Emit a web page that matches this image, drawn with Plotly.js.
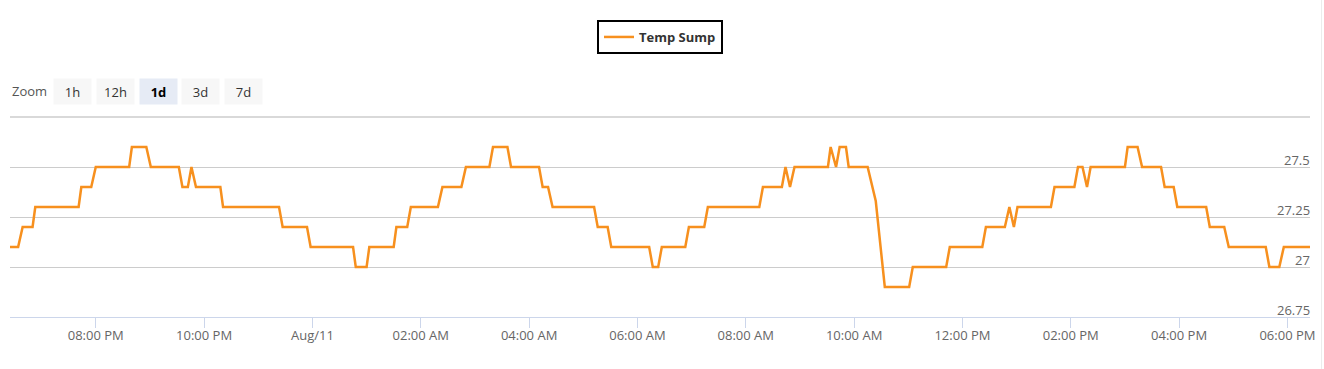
<!DOCTYPE html>
<html>
<head>
<meta charset="utf-8">
<script src="https://cdn.plot.ly/plotly-3.0.1.min.js"></script>
<style>
html,body{margin:0;padding:0;background:#fff;}
#chart{width:1324px;height:369px;}
</style>
</head>
<body>
<div id="chart"></div>
<script>
// Temp Sump readings (time, °C)
const times = [
  "2023-08-10 18:25","2023-08-10 18:34","2023-08-10 18:39","2023-08-10 18:50","2023-08-10 18:53",
  "2023-08-10 19:41","2023-08-10 19:44","2023-08-10 19:55","2023-08-10 20:00","2023-08-10 20:37",
  "2023-08-10 20:40","2023-08-10 20:56","2023-08-10 21:01","2023-08-10 21:32","2023-08-10 21:36",
  "2023-08-10 21:42","2023-08-10 21:46","2023-08-10 21:51","2023-08-10 22:18","2023-08-10 22:21",
  "2023-08-10 23:23","2023-08-10 23:27","2023-08-10 23:54","2023-08-10 23:58",
  "2023-08-11 00:45","2023-08-11 00:48","2023-08-11 01:00","2023-08-11 01:03","2023-08-11 01:30",
  "2023-08-11 01:33","2023-08-11 01:45","2023-08-11 01:49","2023-08-11 02:19","2023-08-11 02:24",
  "2023-08-11 02:45","2023-08-11 02:50","2023-08-11 03:16","2023-08-11 03:20","2023-08-11 03:36",
  "2023-08-11 03:40","2023-08-11 04:11","2023-08-11 04:15","2023-08-11 04:21","2023-08-11 04:26",
  "2023-08-11 05:12","2023-08-11 05:16","2023-08-11 05:27","2023-08-11 05:31","2023-08-11 06:13",
  "2023-08-11 06:17","2023-08-11 06:23","2023-08-11 06:27","2023-08-11 06:53","2023-08-11 06:57",
  "2023-08-11 07:14","2023-08-11 07:18","2023-08-11 08:15","2023-08-11 08:19","2023-08-11 08:40",
  "2023-08-11 08:44","2023-08-11 08:49","2023-08-11 08:54","2023-08-11 09:31","2023-08-11 09:34",
  "2023-08-11 09:40","2023-08-11 09:44","2023-08-11 09:51","2023-08-11 09:54","2023-08-11 10:15",
  "2023-08-11 10:21","2023-08-11 10:24","2023-08-11 10:34","2023-08-11 11:01","2023-08-11 11:05",
  "2023-08-11 11:42","2023-08-11 11:46","2023-08-11 12:22","2023-08-11 12:26","2023-08-11 12:47",
  "2023-08-11 12:52","2023-08-11 12:57","2023-08-11 13:01","2023-08-11 13:38","2023-08-11 13:42",
  "2023-08-11 14:04","2023-08-11 14:08","2023-08-11 14:13","2023-08-11 14:18","2023-08-11 14:22",
  "2023-08-11 15:00","2023-08-11 15:03","2023-08-11 15:14","2023-08-11 15:19","2023-08-11 15:40",
  "2023-08-11 15:44","2023-08-11 15:54","2023-08-11 15:58","2023-08-11 16:30","2023-08-11 16:34",
  "2023-08-11 16:50","2023-08-11 16:55","2023-08-11 17:36","2023-08-11 17:40","2023-08-11 17:51",
  "2023-08-11 17:56","2023-08-11 18:25"
];
const temps = [
  27.1,27.1,27.2,27.2,27.3,
  27.3,27.4,27.4,27.5,27.5,
  27.6,27.6,27.5,27.5,27.4,
  27.4,27.5,27.4,27.4,27.3,
  27.3,27.2,27.2,27.1,
  27.1,27.0,27.0,27.1,27.1,
  27.2,27.2,27.3,27.3,27.4,
  27.4,27.5,27.5,27.6,27.6,
  27.5,27.5,27.4,27.4,27.3,
  27.3,27.2,27.2,27.1,27.1,
  27.0,27.0,27.1,27.1,27.2,
  27.2,27.3,27.3,27.4,27.4,
  27.5,27.4,27.5,27.5,27.6,
  27.5,27.6,27.6,27.5,27.5,
  27.38,27.33,26.9,26.9,27.0,
  27.0,27.1,27.1,27.2,27.2,
  27.3,27.2,27.3,27.3,27.4,
  27.4,27.5,27.5,27.4,27.5,
  27.5,27.6,27.6,27.5,27.5,
  27.4,27.4,27.3,27.3,27.2,
  27.2,27.1,27.1,27.0,27.0,
  27.1,27.1
];
const seriesName = "Temp Sump";
const xRange = ["2023-08-10 18:25","2023-08-11 18:25"];
const tickTimes = [
  "2023-08-10 20:00","2023-08-10 22:00","2023-08-11 00:00","2023-08-11 02:00",
  "2023-08-11 04:00","2023-08-11 06:00","2023-08-11 08:00","2023-08-11 10:00",
  "2023-08-11 12:00","2023-08-11 14:00","2023-08-11 16:00","2023-08-11 18:00"
];
const tickLabels = ["08:00 PM","10:00 PM","Aug/11","02:00 AM","04:00 AM","06:00 AM",
  "08:00 AM","10:00 AM","12:00 PM","02:00 PM","04:00 PM","06:00 PM"];
const yRange = [26.75, 27.75];
const yTickVals = [26.75, 27, 27.25, 27.5];
const yTickText = ["26.75", "27", "27.25", "27.5"];
const zoomButtons = ["1h", "12h", "1d", "3d", "7d"];
const activeButton = "1d";

const FONT = '"Open Sans", "DejaVu Sans", Arial, sans-serif';
const W = 1324, H = 369, ML = 10, MR = 14, MT = 117, MB = 52;
const PW = W - ML - MR, PH = H - MT - MB;
const px = x => (x - ML) / PW;
const py = y => (H - MB - y) / PH;

const annotations = [{
  xref: 'paper', yref: 'paper', x: px(10), y: py(91), xanchor: 'left', yanchor: 'middle',
  text: 'Zoom', showarrow: false, font: {family: FONT, size: 13, color: '#555'}
}];
const btnLefts = [53, 96, 138.5, 181, 223.5];
zoomButtons.forEach((b, i) => {
  const act = b === activeButton;
  annotations.push({
    xref: 'paper', yref: 'paper', x: px(btnLefts[i]), y: py(78), xanchor: 'left', yanchor: 'top',
    width: 37, height: 25, borderpad: 0, align: 'center', valign: 'middle',
    text: act ? '<b>' + b + '</b>' : b, showarrow: false,
    bgcolor: act ? '#e6ebf5' : '#f7f7f7',
    font: {family: FONT, size: 13, color: act ? '#000' : '#333'}
  });
});
// y-axis labels drawn inside the plot, right-aligned, sitting on their grid lines
yTickVals.forEach((v, i) => {
  annotations.push({
    xref: 'paper', yref: 'y', x: 1, y: v, xanchor: 'right', yanchor: 'bottom',
    text: yTickText[i], showarrow: false, borderpad: 0, yshift: -3, xshift: 1,
    font: {family: FONT, size: 13, color: '#666'}
  });
});

const trace = {
  x: times, y: temps, type: 'scatter', mode: 'lines', name: seriesName,
  line: {color: '#f7901e', width: 2.5}, hoverinfo: 'x+y', showlegend: true
};

const layout = {
  width: W, height: H,
  margin: {l: ML, r: MR, t: MT, b: MB, pad: 0},
  paper_bgcolor: '#fff', plot_bgcolor: '#fff',
  font: {family: FONT, size: 13, color: '#666'},
  showlegend: true,
  legend: {
    orientation: 'h', x: 0.5, xanchor: 'center', y: py(20), yanchor: 'top',
    bordercolor: '#000', borderwidth: 2, bgcolor: '#fff',
    font: {family: FONT, size: 13, color: '#333', weight: 'bold'}
  },
  xaxis: {
    type: 'date', range: xRange, tickmode: 'array', tickvals: tickTimes, ticktext: tickLabels,
    showgrid: false, zeroline: false, showline: true, linecolor: '#ccd6eb', linewidth: 1,
    ticks: 'outside', ticklen: 10, tickcolor: '#ccd6eb', tickwidth: 1, ticklabelstandoff: -4,
    tickfont: {family: FONT, size: 13, color: '#666'}, fixedrange: true
  },
  yaxis: {
    range: yRange, tickmode: 'array', tickvals: yTickVals, showticklabels: false,
    ticks: '', showline: false, zeroline: false,
    showgrid: true, gridcolor: '#cccccc', gridwidth: 1, fixedrange: true
  },
  shapes: [
    {type: 'line', xref: 'paper', yref: 'paper', x0: 0, x1: 1, y0: 1, y1: 1,
     line: {color: '#d9d9d9', width: 2}},
    {type: 'line', xref: 'paper', yref: 'paper', x0: px(1321.5), x1: px(1321.5), y0: py(0), y1: py(369),
     line: {color: '#ececec', width: 1}}
  ],
  annotations: annotations
};

Plotly.newPlot('chart', [trace], layout, {displayModeBar: false});
</script>
</body>
</html>
